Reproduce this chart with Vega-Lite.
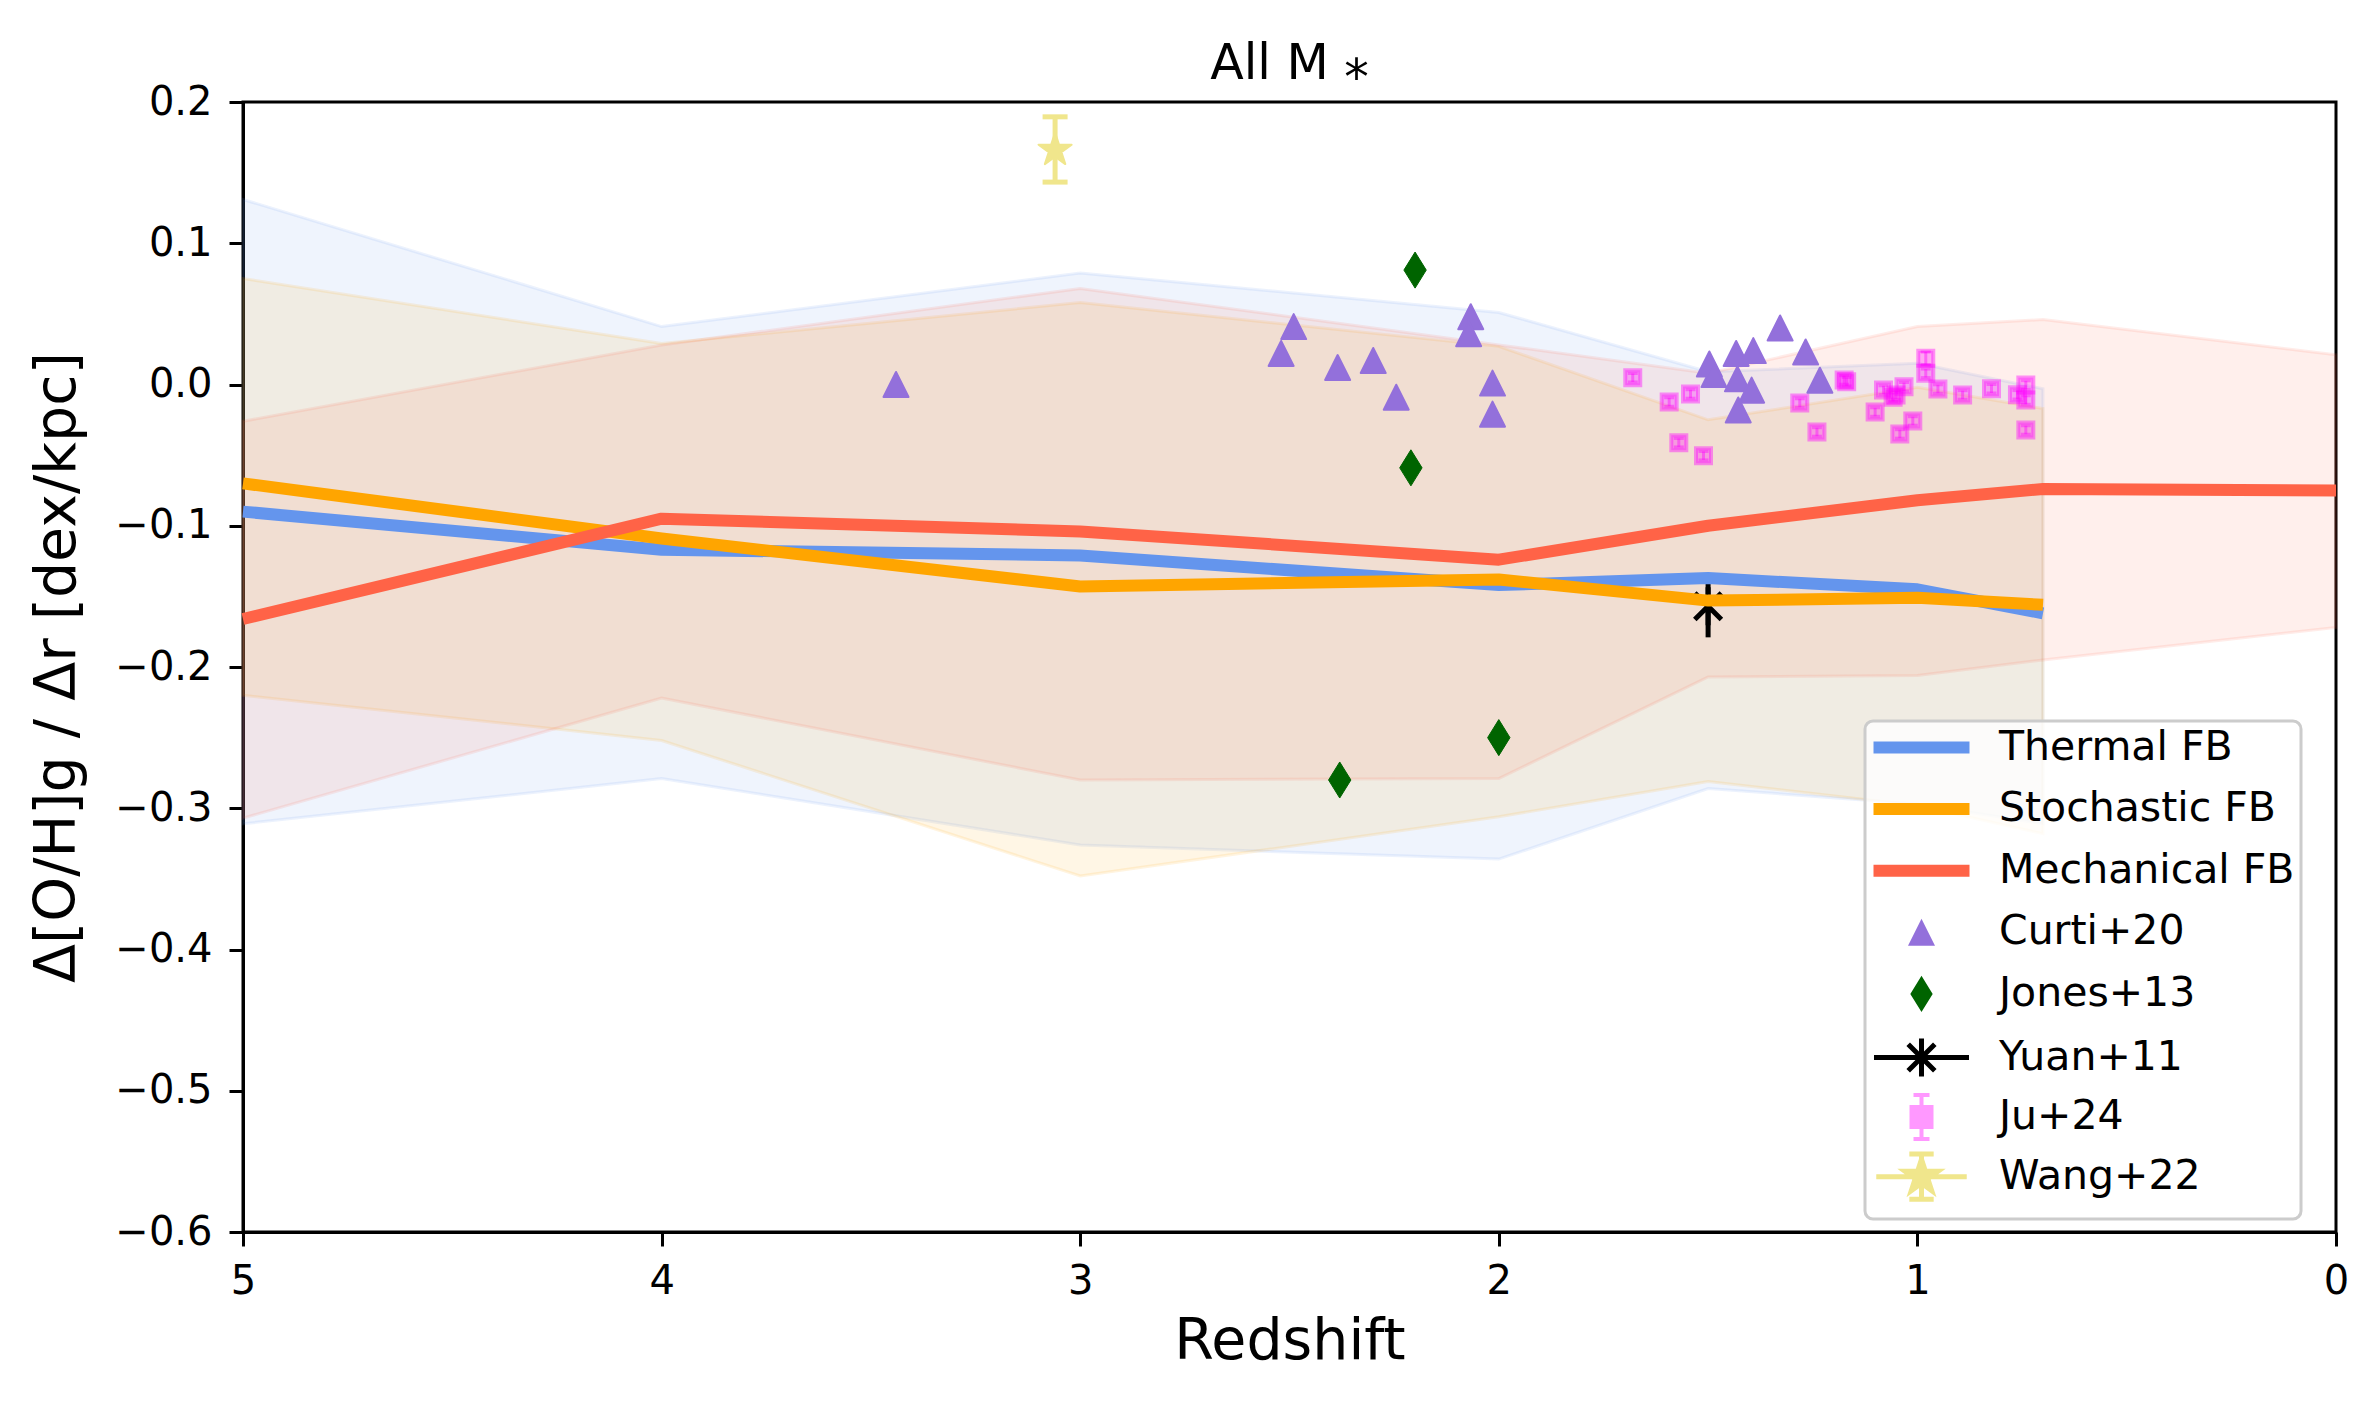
{
  "$schema": "https://vega.github.io/schema/vega-lite/v6.json",
  "width": 2093,
  "height": 1130,
  "autosize": {"type": "none"},
  "padding": {"left": 243, "top": 102, "right": 42, "bottom": 173},
  "background": "white",
  "title": {"text": "All M ⁎", "font": "DejaVu Sans", "fontSize": 49, "fontWeight": "normal", "color": "black", "anchor": "middle", "baseline": "bottom", "offset": 14, "dy": 70},
  "datasets": {
    "models": [
      {"series": "Thermal FB", "z": 5, "y": -0.090, "lo": -0.311, "hi": 0.131},
      {"series": "Thermal FB", "z": 4, "y": -0.117, "lo": -0.279, "hi": 0.041},
      {"series": "Thermal FB", "z": 3, "y": -0.121, "lo": -0.326, "hi": 0.079},
      {"series": "Thermal FB", "z": 2, "y": -0.142, "lo": -0.336, "hi": 0.051},
      {"series": "Thermal FB", "z": 1.5, "y": -0.137, "lo": -0.286, "hi": 0.009},
      {"series": "Thermal FB", "z": 1, "y": -0.145, "lo": -0.297, "hi": 0.015},
      {"series": "Thermal FB", "z": 0.7, "y": -0.162, "lo": -0.311, "hi": -0.003},
      {"series": "Stochastic FB", "z": 5, "y": -0.070, "lo": -0.220, "hi": 0.075},
      {"series": "Stochastic FB", "z": 4, "y": -0.109, "lo": -0.252, "hi": 0.029},
      {"series": "Stochastic FB", "z": 3, "y": -0.143, "lo": -0.348, "hi": 0.058},
      {"series": "Stochastic FB", "z": 2, "y": -0.138, "lo": -0.306, "hi": 0.027},
      {"series": "Stochastic FB", "z": 1.5, "y": -0.153, "lo": -0.281, "hi": -0.025},
      {"series": "Stochastic FB", "z": 1, "y": -0.151, "lo": -0.298, "hi": -0.002},
      {"series": "Stochastic FB", "z": 0.7, "y": -0.156, "lo": -0.318, "hi": -0.017},
      {"series": "Mechanical FB", "z": 5, "y": -0.166, "lo": -0.307, "hi": -0.026},
      {"series": "Mechanical FB", "z": 4, "y": -0.095, "lo": -0.222, "hi": 0.028},
      {"series": "Mechanical FB", "z": 3, "y": -0.104, "lo": -0.280, "hi": 0.068},
      {"series": "Mechanical FB", "z": 2, "y": -0.124, "lo": -0.279, "hi": 0.028},
      {"series": "Mechanical FB", "z": 1.5, "y": -0.100, "lo": -0.207, "hi": 0.008},
      {"series": "Mechanical FB", "z": 1, "y": -0.082, "lo": -0.206, "hi": 0.041},
      {"series": "Mechanical FB", "z": 0.7, "y": -0.074, "lo": -0.195, "hi": 0.046},
      {"series": "Mechanical FB", "z": 0, "y": -0.075, "lo": -0.172, "hi": 0.021}
    ],
    "curti": [
      {"z": 3.44, "y": 0.000},
      {"z": 2.49, "y": 0.041},
      {"z": 2.52, "y": 0.022},
      {"z": 2.385, "y": 0.012},
      {"z": 2.30, "y": 0.017},
      {"z": 2.245, "y": -0.009},
      {"z": 2.067, "y": 0.048},
      {"z": 2.072, "y": 0.036},
      {"z": 2.015, "y": 0.001},
      {"z": 2.015, "y": -0.021},
      {"z": 1.497, "y": 0.0145},
      {"z": 1.433, "y": 0.022},
      {"z": 1.392, "y": 0.024},
      {"z": 1.328, "y": 0.040},
      {"z": 1.267, "y": 0.023},
      {"z": 1.486, "y": 0.007},
      {"z": 1.430, "y": 0.004},
      {"z": 1.396, "y": -0.004},
      {"z": 1.428, "y": -0.018},
      {"z": 1.233, "y": 0.003}
    ],
    "jones": [
      {"z": 2.20, "y": 0.081},
      {"z": 2.21, "y": -0.059},
      {"z": 2.38, "y": -0.280},
      {"z": 2.00, "y": -0.250}
    ],
    "ju": [
      {"z": 1.680, "y": 0.0048, "lo": 0.0018, "hi": 0.0078},
      {"z": 1.593, "y": -0.0124, "lo": -0.0154, "hi": -0.0094},
      {"z": 1.542, "y": -0.0067, "lo": -0.0097, "hi": -0.0037},
      {"z": 1.570, "y": -0.0412, "lo": -0.0442, "hi": -0.0382},
      {"z": 1.511, "y": -0.0504, "lo": -0.0534, "hi": -0.0474},
      {"z": 1.281, "y": -0.0131, "lo": -0.0161, "hi": -0.0101},
      {"z": 1.240, "y": -0.0336, "lo": -0.0366, "hi": -0.0306},
      {"z": 1.175, "y": 0.0032, "lo": 0.0002, "hi": 0.0062},
      {"z": 1.169, "y": 0.0020, "lo": -0.0010, "hi": 0.0050},
      {"z": 1.101, "y": -0.0195, "lo": -0.0225, "hi": -0.0165},
      {"z": 1.081, "y": -0.0039, "lo": -0.0069, "hi": -0.0009},
      {"z": 1.051, "y": -0.0074, "lo": -0.0104, "hi": -0.0044},
      {"z": 1.058, "y": -0.0090, "lo": -0.0120, "hi": -0.0060},
      {"z": 1.032, "y": -0.0016, "lo": -0.0046, "hi": 0.0014},
      {"z": 1.042, "y": -0.0350, "lo": -0.0380, "hi": -0.0320},
      {"z": 1.011, "y": -0.0258, "lo": -0.0288, "hi": -0.0228},
      {"z": 0.980, "y": 0.0185, "lo": 0.0140, "hi": 0.0230},
      {"z": 0.980, "y": 0.0079, "lo": 0.0049, "hi": 0.0109},
      {"z": 0.951, "y": -0.0032, "lo": -0.0062, "hi": -0.0002},
      {"z": 0.892, "y": -0.0074, "lo": -0.0104, "hi": -0.0044},
      {"z": 0.823, "y": -0.0030, "lo": -0.0060, "hi": 0.0000},
      {"z": 0.761, "y": -0.0073, "lo": -0.0103, "hi": -0.0043},
      {"z": 0.741, "y": -0.0004, "lo": -0.0034, "hi": 0.0026},
      {"z": 0.741, "y": -0.0110, "lo": -0.0140, "hi": -0.0080},
      {"z": 0.741, "y": -0.0322, "lo": -0.0352, "hi": -0.0292}
    ],
    "yuan": [
      {"z": 1.5, "y": -0.157, "lo": -0.179, "hi": -0.141}
    ],
    "wang": [
      {"z": 3.06, "y": 0.166, "lo": 0.1433, "hi": 0.1895}
    ]
  },
  "layer": [
    {
      "data": {"name": "models"},
      "mark": {"type": "area", "fillOpacity": 0.1, "strokeOpacity": 0.12, "strokeWidth": 3},
      "encoding": {
        "x": {"field": "z", "type": "quantitative",
              "scale": {"domain": [0, 5], "reverse": true, "nice": false, "zero": false},
              "axis": {"title": "Redshift", "values": [0, 1, 2, 3, 4, 5], "format": "d", "labelPadding": 15, "titlePadding": 12}},
        "y": {"field": "lo", "type": "quantitative", "stack": null,
              "scale": {"domain": [-0.6, 0.2], "nice": false, "zero": false},
              "axis": {"title": "Δ[O/H]g / Δr [dex/kpc]", "values": [-0.6, -0.5, -0.4, -0.3, -0.2, -0.1, 0, 0.1, 0.2], "format": ".1f", "labelPadding": 17, "titlePadding": 28}},
        "y2": {"field": "hi"},
        "fill": {"field": "series", "type": "nominal", "legend": null,
                 "scale": {"domain": ["Thermal FB", "Stochastic FB", "Mechanical FB"], "range": ["#6495ED", "#FFA500", "#FF6347"]}},
        "stroke": {"field": "series", "type": "nominal", "legend": null,
                   "scale": {"domain": ["Thermal FB", "Stochastic FB", "Mechanical FB"], "range": ["#6495ED", "#FFA500", "#FF6347"]}}
      }
    },
    {
      "data": {"name": "ju"},
      "mark": {"type": "rule", "color": "#FF00FF", "strokeOpacity": 0.4, "strokeWidth": 3},
      "encoding": {"x": {"field": "z", "type": "quantitative"}, "y": {"field": "lo", "type": "quantitative"}, "y2": {"field": "hi"}}
    },
    {
      "data": {"name": "ju"},
      "mark": {"type": "tick", "orient": "horizontal", "size": 10, "thickness": 3, "color": "#FF00FF", "opacity": 0.4},
      "encoding": {"x": {"field": "z", "type": "quantitative"}, "y": {"field": "lo", "type": "quantitative"}}
    },
    {
      "data": {"name": "ju"},
      "mark": {"type": "tick", "orient": "horizontal", "size": 10, "thickness": 3, "color": "#FF00FF", "opacity": 0.4},
      "encoding": {"x": {"field": "z", "type": "quantitative"}, "y": {"field": "hi", "type": "quantitative"}}
    },
    {
      "data": {"name": "ju"},
      "mark": {"type": "point", "shape": "square", "size": 225, "filled": true, "fill": "#FF00FF", "fillOpacity": 0.3, "stroke": "#FF00FF", "strokeOpacity": 0.4, "strokeWidth": 4, "opacity": 1},
      "encoding": {"x": {"field": "z", "type": "quantitative"}, "y": {"field": "y", "type": "quantitative"}}
    },
    {
      "data": {"name": "curti"},
      "mark": {"type": "point", "shape": "M0,-1L1,1L-1,1Z", "size": 625, "filled": true, "fill": "#9370DB", "stroke": "#9370DB", "strokeWidth": 2, "strokeJoin": "round", "opacity": 1},
      "encoding": {"x": {"field": "z", "type": "quantitative"}, "y": {"field": "y", "type": "quantitative"}}
    },
    {
      "data": {"name": "jones"},
      "mark": {"type": "point", "shape": "M0,-1L0.62,0L0,1L-0.62,0Z", "size": 1300, "filled": true, "fill": "#006400", "stroke": "#006400", "strokeWidth": 1, "strokeJoin": "round", "opacity": 1},
      "encoding": {"x": {"field": "z", "type": "quantitative"}, "y": {"field": "y", "type": "quantitative"}}
    },
    {
      "data": {"name": "wang"},
      "mark": {"type": "rule", "color": "#F0E68C", "strokeWidth": 5},
      "encoding": {"x": {"field": "z", "type": "quantitative"}, "y": {"field": "lo", "type": "quantitative"}, "y2": {"field": "hi"}}
    },
    {
      "data": {"name": "wang"},
      "mark": {"type": "tick", "orient": "horizontal", "size": 25, "thickness": 5, "color": "#F0E68C", "opacity": 1},
      "encoding": {"x": {"field": "z", "type": "quantitative"}, "y": {"field": "lo", "type": "quantitative"}}
    },
    {
      "data": {"name": "wang"},
      "mark": {"type": "tick", "orient": "horizontal", "size": 25, "thickness": 5, "color": "#F0E68C", "opacity": 1},
      "encoding": {"x": {"field": "z", "type": "quantitative"}, "y": {"field": "hi", "type": "quantitative"}}
    },
    {
      "data": {"name": "wang"},
      "mark": {"type": "point", "shape": "M0,-1L0.2245,-0.309L0.951,-0.309L0.363,0.118L0.588,0.809L0,0.382L-0.588,0.809L-0.363,0.118L-0.951,-0.309L-0.2245,-0.309Z", "size": 1211, "filled": true, "fill": "#F0E68C", "stroke": "#F0E68C", "strokeWidth": 2, "strokeJoin": "round", "opacity": 1},
      "encoding": {"x": {"field": "z", "type": "quantitative"}, "y": {"field": "y", "type": "quantitative"}}
    },
    {
      "data": {"name": "yuan"},
      "mark": {"type": "rule", "color": "black", "strokeWidth": 5},
      "encoding": {"x": {"field": "z", "type": "quantitative"}, "y": {"field": "lo", "type": "quantitative"}, "y2": {"field": "hi"}}
    },
    {
      "data": {"name": "yuan"},
      "mark": {"type": "point", "shape": "M0,-1V1M-0.7,-0.7L0.7,0.7M-0.7,0.7L0.7,-0.7", "size": 1444, "filled": false, "fill": "transparent", "stroke": "black", "strokeWidth": 5, "opacity": 1},
      "encoding": {"x": {"field": "z", "type": "quantitative"}, "y": {"field": "y", "type": "quantitative"}}
    },
    {
      "data": {"name": "models"},
      "mark": {"type": "line", "strokeWidth": 12, "strokeCap": "butt", "strokeJoin": "round"},
      "encoding": {
        "x": {"field": "z", "type": "quantitative"},
        "y": {"field": "y", "type": "quantitative"},
        "color": {
          "field": "series", "type": "nominal",
          "scale": {
            "domain": ["Thermal FB", "Stochastic FB", "Mechanical FB", "Curti+20", "Jones+13", "Yuan+11", "Ju+24", "Wang+22"],
            "range": ["#6495ED", "#FFA500", "#FF6347", "#9370DB", "#006400", "#000000", "#FF00FF", "#F0E68C"]
          },
          "legend": {
            "orient": "none", "legendX": 1622, "legendY": 619,
            "title": null,
            "labelFont": "DejaVu Sans", "labelFontSize": 41, "labelColor": "black", "labelLimit": 600,
            "padding": 6, "rowPadding": -7.4,
            "fillColor": "rgba(255,255,255,0.8)", "strokeColor": "#cccccc", "cornerRadius": 8,
            "symbolOffset": 30, "labelOffset": 57,
            "symbolType": {"expr": "datum.value === 'Curti+20' ? 'M0,-1L1,1L-1,1ZM0,-2.52L0,-2.52M0,2.52L0,2.52' : datum.value === 'Jones+13' ? 'M0,-1L0.62,0L0,1L-0.62,0ZM0,-1.886L0,-1.886M0,1.886L0,1.886' : datum.value === 'Yuan+11' ? 'M-2.5,0H2.5M0,-1V1M-0.7,-0.7L0.7,0.7M-0.7,0.7L0.7,-0.7M0,-1.35L0,-1.35M0,1.35L0,1.35' : datum.value === 'Ju+24' ? 'M-0.5,-0.5H0.5V0.5H-0.5ZM0,-1.1V-0.5M0,0.5V1.1M-0.4,-1.1H0.4M-0.4,1.1H0.4' : datum.value === 'Wang+22' ? 'M-2.6,0H2.6M0,-1.3V1.3M-0.7,-1.3H0.7M-0.7,1.3H0.7M0,-1.5L0,-1.5M0,1.5L0,1.5M0,-1L0.2245,-0.309L0.951,-0.309L0.363,0.118L0.588,0.809L0,0.382L-0.588,0.809L-0.363,0.118L-0.951,-0.309L-0.2245,-0.309Z' : 'M-4,-0.5H4V0.5H-4ZM0,-2.83L0,-2.83M0,2.83L0,2.83'"},
            "symbolSize": {"expr": "datum.value === 'Curti+20' ? 729 : datum.value === 'Jones+13' ? 1300 : datum.value === 'Yuan+11' ? 1444 : datum.value === 'Ju+24' ? 1600 : datum.value === 'Wang+22' ? 1211 : 576"},
            "symbolFillColor": {"expr": "datum.value === 'Yuan+11' ? 'transparent' : datum.value === 'Thermal FB' ? '#6495ED' : datum.value === 'Stochastic FB' ? '#FFA500' : datum.value === 'Mechanical FB' ? '#FF6347' : datum.value === 'Curti+20' ? '#9370DB' : datum.value === 'Jones+13' ? '#006400' : datum.value === 'Ju+24' ? '#FF00FF' : '#F0E68C'"},
            "symbolStrokeWidth": {"expr": "datum.value === 'Yuan+11' ? 5 : datum.value === 'Ju+24' ? 4 : datum.value === 'Wang+22' ? 5 : 0"},
            "symbolOpacity": {"expr": "datum.value === 'Ju+24' ? 0.4 : 1"}
          }
        }
      }
    }
  ],
  "config": {
    "font": "DejaVu Sans",
    "view": {"stroke": "black", "strokeWidth": 3},
    "legend": {"strokeWidth": 3},
    "axis": {
      "domainColor": "black", "domainWidth": 3,
      "tickColor": "black", "tickWidth": 3, "tickSize": 14,
      "labelColor": "black", "labelFont": "DejaVu Sans", "labelFontSize": 40,
      "titleColor": "black", "titleFont": "DejaVu Sans", "titleFontSize": 57, "titleFontWeight": "normal",
      "grid": false, "labelFlush": false, "labelOverlap": false
    }
  }
}
